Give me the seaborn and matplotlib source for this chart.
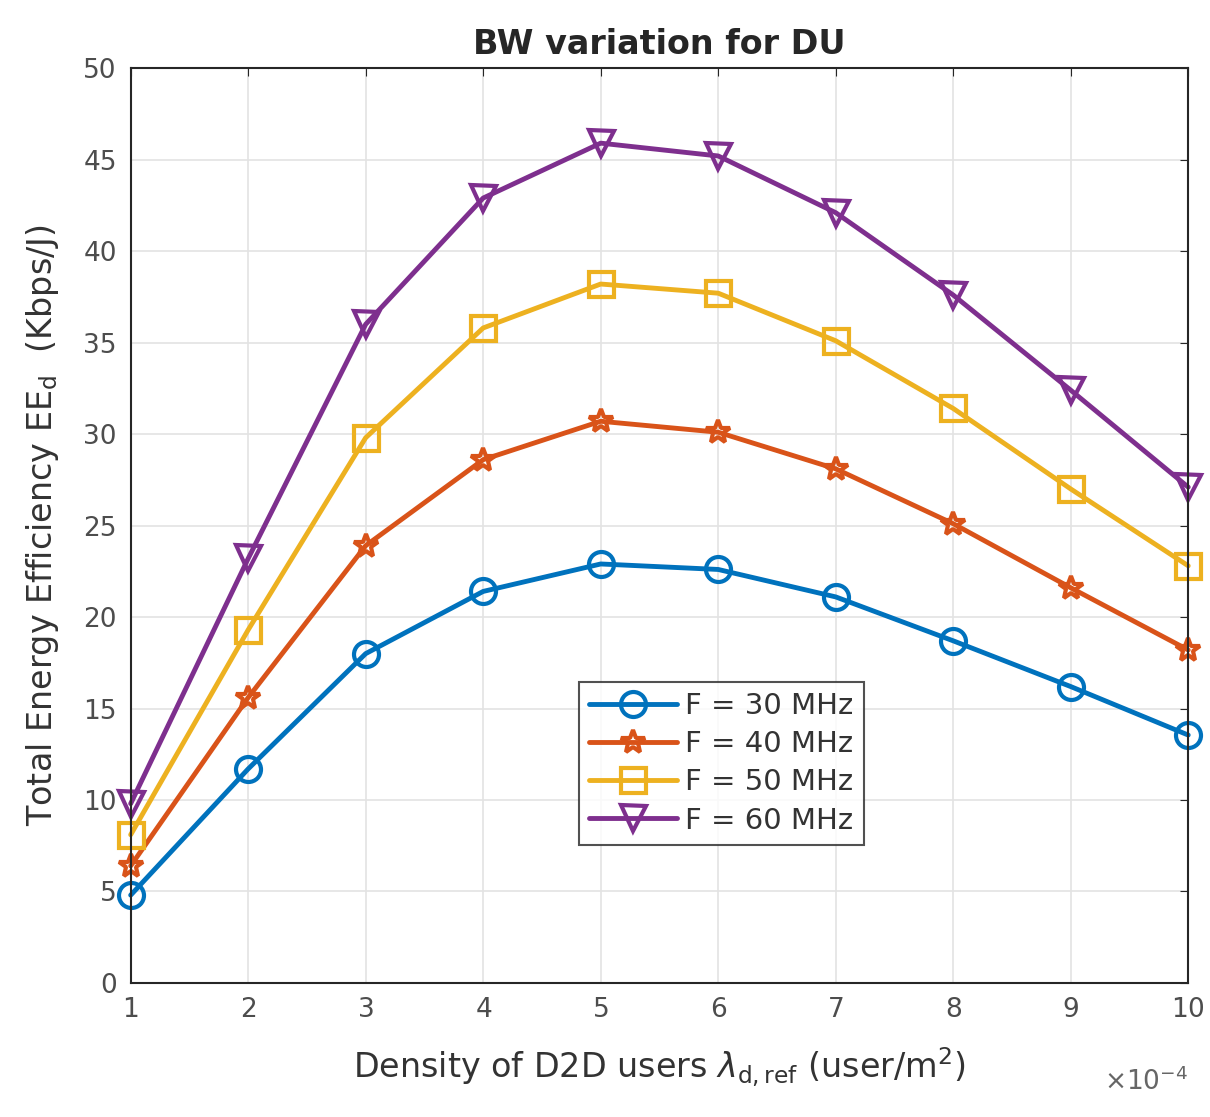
import matplotlib
matplotlib.use("Agg")
import matplotlib.pyplot as plt
import seaborn as sns
import pandas as pd
import numpy as np

# data
density = [1, 2, 3, 4, 5, 6, 7, 8, 9, 10]  # x 1e-4 user/m^2
ee_30 = [4.8, 11.7, 18.0, 21.4, 22.9, 22.6, 21.1, 18.7, 16.2, 13.55]
ee_40 = [6.4, 15.6, 23.9, 28.6, 30.7, 30.1, 28.1, 25.1, 21.6, 18.2]
ee_50 = [8.1, 19.3, 29.8, 35.8, 38.2, 37.7, 35.1, 31.4, 27.0, 22.8]
ee_60 = [9.8, 23.2, 36.0, 42.9, 45.9, 45.2, 42.1, 37.6, 32.4, 27.1]
labels = ['F = 30 MHz', 'F = 40 MHz', 'F = 50 MHz', 'F = 60 MHz']

rows = []
for lab, vals in zip(labels, [ee_30, ee_40, ee_50, ee_60]):
    for x, v in zip(density, vals):
        rows.append({'density': x * 1e-4, 'ee': v, 'bw': lab})
df = pd.DataFrame(rows)

sns.set_style('white')
plt.rcParams['font.family'] = ['DejaVu Sans']

colors = ['#0072BD', '#D95319', '#EDB120', '#7E2F8E']
markers = ['o', '*', 's', 'v']

fig = plt.figure(figsize=(12.1, 11.17), dpi=100)
ax = fig.add_axes([0.108, 0.12, 0.874, 0.819])

sns.lineplot(data=df, x='density', y='ee', hue='bw', style='bw',
             palette=colors, markers=markers, dashes=False,
             linewidth=3.5, markersize=18, ax=ax)

# hollow markers like MATLAB, not clipped at the axes edge
for line in ax.lines:
    line.set_markeredgecolor(line.get_color())
    line.set_markerfacecolor('none')
    line.set_markeredgewidth(3)
    line.set_clip_on(False)

ax.set_xlim(1e-4, 10e-4)
ax.set_ylim(0, 50)
ax.set_xticks(np.array(density) * 1e-4)
ax.set_yticks(range(0, 51, 5))
ax.ticklabel_format(axis='x', style='sci', scilimits=(-4, -4), useMathText=True)
ax.grid(True, color='#e3e3e3', linewidth=1.2)
for s in ax.spines.values():
    s.set_color('#262626')
    s.set_linewidth(1.5)
ax.tick_params(direction='in', top=True, right=True, length=6,
               labelsize=19, labelcolor='#4d4d4d', color='#262626', pad=10)
ax.xaxis.get_offset_text().set_visible(False)
ax.text(1.0, -0.108, r'$\times10^{-4}$', transform=ax.transAxes,
        ha='right', va='center', fontsize=19, color='#666666')

ax.set_title('BW variation for DU', fontsize=24, fontweight='bold', pad=10)
ax.set_xlabel(r'Density of D2D users $\lambda_{\mathrm{d,ref}}$ (user/m$^2$)',
              fontsize=24, color='#333333', labelpad=16)
ax.set_ylabel(r'Total Energy Efficiency EE$_\mathrm{d}$  (Kbps/J)',
              fontsize=24, color='#333333', labelpad=16)

leg = ax.legend(loc='lower left', bbox_to_anchor=(0.41, 0.135), fontsize=21,
                frameon=True, fancybox=False, handlelength=3,
                borderpad=0.35, labelspacing=0.35, handletextpad=0.3)
leg.get_frame().set_edgecolor('#262626')
leg.get_frame().set_linewidth(1.5)
for h in leg.legend_handles:
    h.set_markeredgecolor(h.get_color())
    h.set_markerfacecolor('none')
    h.set_markeredgewidth(3)
    h.set_markersize(18)
    h.set_linewidth(3.5)
for t in leg.get_texts():
    t.set_color('#333333')

fig.savefig('out.png', dpi=100)
